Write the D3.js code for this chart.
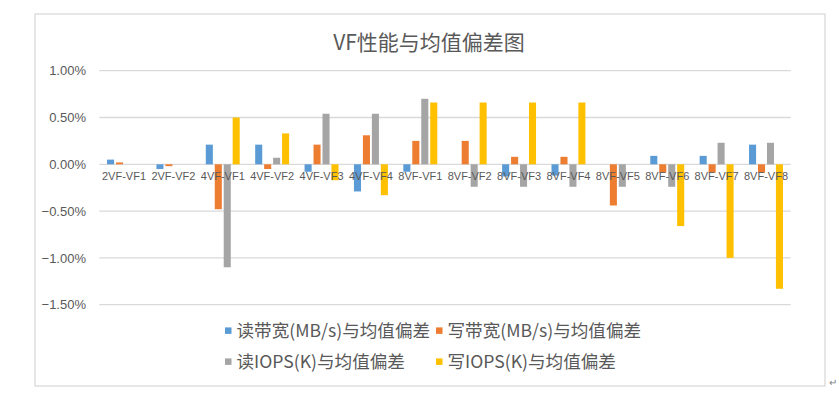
<!DOCTYPE html>
<html><head><meta charset="utf-8">
<script src="https://cdn.jsdelivr.net/npm/d3@7"></script>
<style>html,body{margin:0;padding:0;background:#fff;}</style>
</head><body>
<svg id="c" width="839" height="396"></svg>
<script>
const title = "VF性能与均值偏差图";
const categories = ["2VF-VF1","2VF-VF2","4VF-VF1","4VF-VF2","4VF-VF3","4VF-VF4","8VF-VF1","8VF-VF2","8VF-VF3","8VF-VF4","8VF-VF5","8VF-VF6","8VF-VF7","8VF-VF8"];
const seriesNames = ["读带宽(MB/s)与均值偏差","写带宽(MB/s)与均值偏差","读IOPS(K)与均值偏差","写IOPS(K)与均值偏差"];
const readBW   = [0.05,-0.05,0.21,0.21,-0.08,-0.29,-0.08,0,-0.13,-0.12,0,0.09,0.09,0.21];
const writeBW  = [0.02,-0.02,-0.48,-0.05,0.21,0.31,0.25,0.25,0.08,0.08,-0.44,-0.09,-0.09,-0.09];
const readIOPS = [0,0,-1.10,0.07,0.54,0.54,0.70,-0.24,-0.24,-0.24,-0.24,-0.24,0.23,0.23];
const writeIOPS= [0,0,0.50,0.33,-0.17,-0.33,0.66,0.66,0.66,0.66,0,-0.66,-1.00,-1.33];
const yTicks = [-1.5,-1.0,-0.5,0,0.5,1.0];
const colors = ["#5B9BD5","#ED7D31","#A5A5A5","#FFC000"];

const series = [readBW, writeBW, readIOPS, writeIOPS];
const svg = d3.select("#c");
const textColor = "#595959";
const latin = "'Liberation Sans', Arial, 'Noto Sans CJK SC', sans-serif";
const cjk = "'Noto Sans CJK SC', 'Liberation Sans', sans-serif";

// frame
svg.append("rect").attr("x",35).attr("y",14).attr("width",790).attr("height",372)
  .attr("fill","#fff").attr("stroke","#d9d9d9").attr("stroke-width",1.3);

const x = d3.scaleBand().domain(categories).range([99.3, 790.7]).paddingInner(0).paddingOuter(0);
const y = d3.scaleLinear().domain([-1.5, 1.0]).range([304.7, 70.7]);

// gridlines
svg.append("g").selectAll("line").data(yTicks).join("line")
  .attr("x1",99.3).attr("x2",790.7)
  .attr("y1",d=>y(d)).attr("y2",d=>y(d))
  .attr("stroke","#d9d9d9").attr("stroke-width",1.3);

// y axis labels via d3 axis
const yAxis = d3.axisLeft(y).tickValues(yTicks).tickFormat(d=>d3.format(".2f")(d)+"%").tickSize(0).tickPadding(0);
const ya = svg.append("g").attr("transform","translate(86,0)").call(yAxis);
ya.select(".domain").remove();
ya.selectAll("text").attr("fill",textColor).style("font-family",latin).style("font-size","13px");

// bars
const bw = x.bandwidth();
const w = bw/7;
const sub = d3.scaleBand().domain(d3.range(series.length)).range([1.095*w, bw-1.095*w]).paddingInner(0.27/1.27).paddingOuter(0);
series.forEach((vals, si) => {
  svg.append("g").selectAll("rect").data(vals.map((v,i)=>({c:categories[i],v}))).join("rect")
    .attr("x", d=>x(d.c)+sub(si))
    .attr("width", sub.bandwidth())
    .attr("y", d=>Math.min(y(0), y(d.v)))
    .attr("height", d=>Math.abs(y(d.v)-y(0)))
    .attr("fill", colors[si]);
});

// x labels
const xAxis = d3.axisBottom(x).tickSize(0).tickPadding(0);
const xa = svg.append("g").attr("transform","translate(0,172)").call(xAxis);
xa.select(".domain").remove();
xa.selectAll("text").attr("fill",textColor).style("font-family",latin).style("font-size","11px").attr("dy","0.71em");

// title
svg.append("text").attr("x",429).attr("y",50).attr("text-anchor","middle")
  .attr("fill",textColor).style("font-family",cjk).style("font-size","21px").text(title);

// legend
const legPos = [[225,330.7],[436,330.7],[225,361.7],[436,361.7]];
seriesNames.forEach((n,i)=>{
  const [lx,ly] = legPos[i];
  svg.append("rect").attr("x",lx).attr("y",ly-3.3).attr("width",6.5).attr("height",6.5).attr("fill",colors[i]);
  svg.append("text").attr("x",lx+11.5).attr("y",ly).attr("dy","0.36em")
    .attr("fill",textColor).style("font-family",cjk).style("font-size","17.6px").text(n);
});

// paragraph mark outside frame
svg.append("text").attr("x",829).attr("y",386).attr("fill","#7f7f7f")
  .style("font-family",latin).style("font-size","10px").text("↵");
</script>
</body></html>
